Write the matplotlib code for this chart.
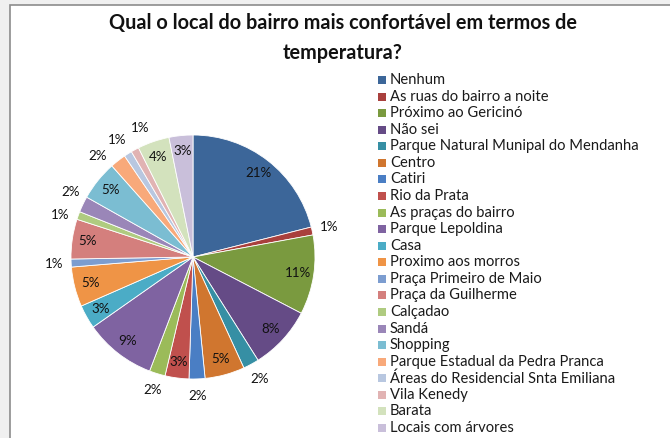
import matplotlib
matplotlib.use('Agg')
import matplotlib.pyplot as plt
from matplotlib.patches import Rectangle
import numpy as np

plt.rcParams['font.family'] = ['Lato', 'DejaVu Sans']

# data
locais = ['Nenhum', 'As ruas do bairro a noite', 'Próximo ao Gericinó', 'Não sei',
          'Parque Natural Munipal do Mendanha', 'Centro', 'Catiri', 'Rio da Prata',
          'As praças do bairro', 'Parque Lepoldina', 'Casa', 'Proximo aos morros',
          'Praça Primeiro de Maio', 'Praça da Guilherme', 'Calçadao', 'Sandá',
          'Shopping', 'Parque Estadual da Pedra Pranca', 'Áreas do Residencial Snta Emiliana',
          'Vila Kenedy', 'Barata', 'Locais com árvores']
respostas = [20, 1, 10, 8, 2, 5, 2, 3, 2, 9, 3, 5, 1, 5, 1, 2, 5, 2, 1, 1, 4, 3]
cores = ['#3C6699', '#A9403D', '#7A9A3F', '#654B86', '#368FA4', '#D0762F',
         '#4A7EC4', '#C0504D', '#9BBB59', '#7F63A1', '#4BACC6', '#EF9446',
         '#7C9DD0', '#D47F7D', '#AFCB80', '#9A86B8', '#7BBDD2', '#F8A97A',
         '#B8C7E0', '#E1B3B3', '#D3E2BD', '#C9BFDA']

W, H = 670, 438
fig = plt.figure(figsize=(W / 100, H / 100), dpi=100, facecolor='#F0F0F0')
fig.patches.append(Rectangle((10 / W, -0.02), 1.0, 1 - 5 / H + 0.02, transform=fig.transFigure,
                             facecolor='white', edgecolor='#8C8C8C', linewidth=1.2, zorder=-5))

fig.text(343 / W, 1 - 23 / H, 'Qual o local do bairro mais confortável em termos de',
         ha='center', va='center', fontsize=14.3, fontweight='bold', color='#111111')
fig.text(343 / W, 1 - 53 / H, 'temperatura?',
         ha='center', va='center', fontsize=14.3, fontweight='bold', color='#111111')

cx, cy, r = 193, 257, 122
ax = fig.add_axes([(cx - r) / W, 1 - (cy + r) / H, 2 * r / W, 2 * r / H])
wedges, _ = ax.pie(respostas, colors=cores, startangle=90, counterclock=False,
                   wedgeprops=dict(linewidth=0.6, edgecolor='white'))
ax.set_xlim(-1, 1)
ax.set_ylim(-1, 1)
ax.set_aspect('equal')
ax.axis('off')

total = sum(respostas)
angs = [(w.theta1 + w.theta2) / 2 for w in wedges]
fora = [v < 3 for v in respostas]

# spread outside labels that sit too close together (like Excel's best fit)
idx = [i for i in range(len(respostas)) if fora[i]]
for _ in range(10):
    for a, b in zip(idx[:-1], idx[1:]):
        gap = abs(angs[a] - angs[b])
        if gap < 10.5:
            push = (10.5 - gap) / 2
            sgn = 1 if angs[a] > angs[b] else -1
            angs[a] += sgn * push
            angs[b] -= sgn * push

for ang, v, out in zip(angs, respostas, fora):
    t = np.deg2rad(ang)
    d = 1.14 if out else 0.87
    ax.text(d * np.cos(t), d * np.sin(t), f'{round(100 * v / total):.0f}%',
            ha='center', va='center', fontsize=9.6, color='#111111', clip_on=False)

# legend, drawn row by row
for i, (nome, c) in enumerate(zip(locais, cores)):
    y = 80 + i * 16.57
    fig.patches.append(Rectangle((378 / W, 1 - (y + 4) / H), 8 / W, 8 / H,
                                 transform=fig.transFigure, facecolor=c, edgecolor='none'))
    fig.text(390 / W, 1 - y / H, nome, ha='left', va='center', fontsize=10.6,
             color='#1a1a1a')

fig.savefig('out.png', dpi=100, facecolor=fig.get_facecolor())
